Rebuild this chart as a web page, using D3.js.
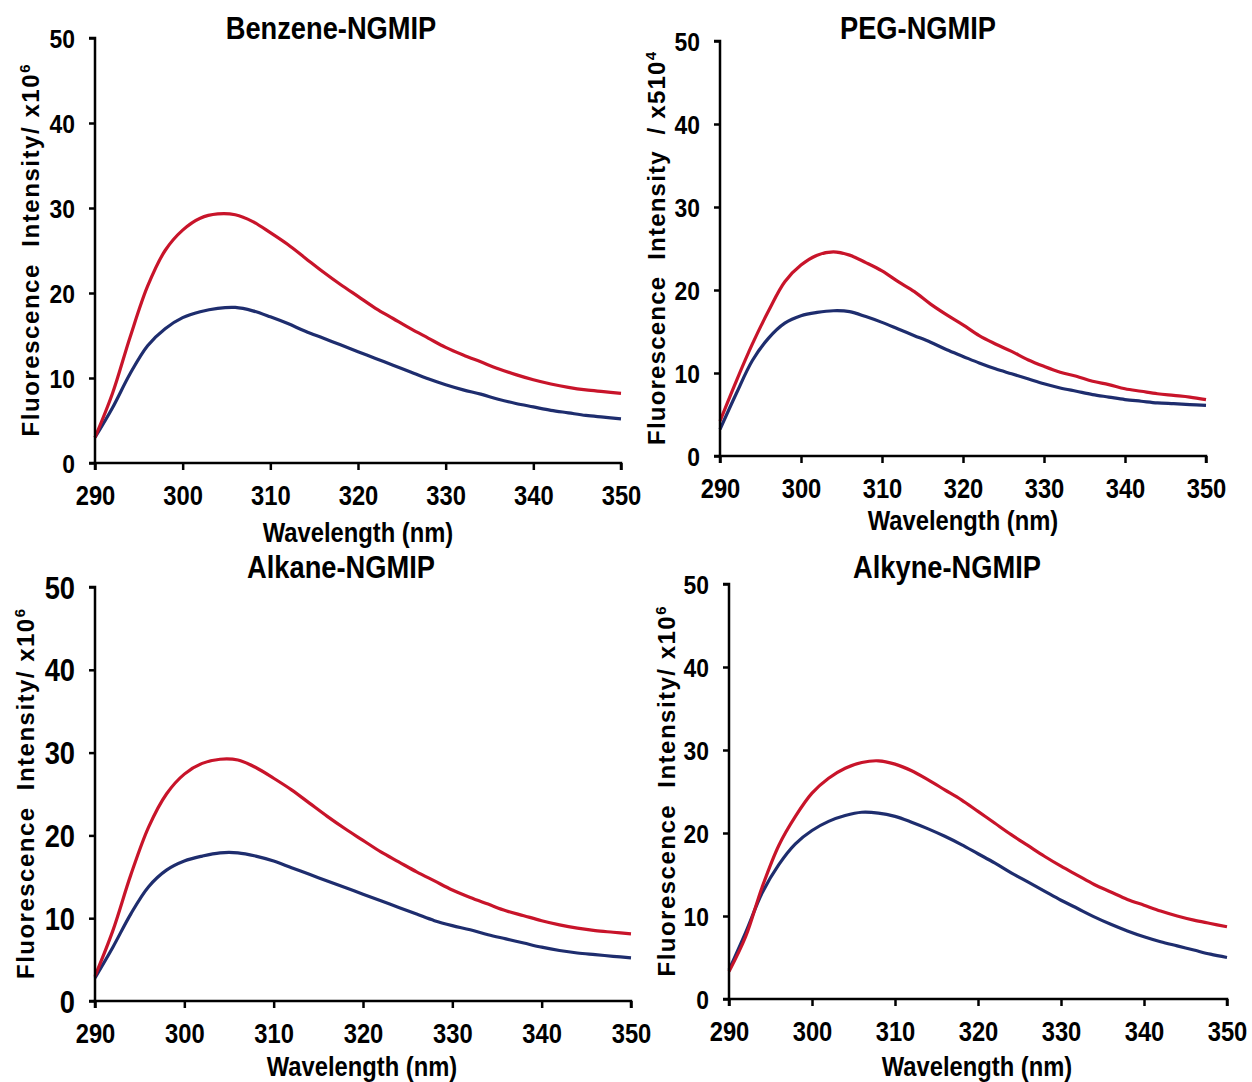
<!DOCTYPE html>
<html>
<head>
<meta charset="utf-8">
<script src="https://cdn.jsdelivr.net/npm/d3@7"></script>
<style>
  html, body { margin: 0; padding: 0; background: #fff; }
  svg { display: block; }
  .bold { font-family: "Liberation Sans", Arial, sans-serif; font-weight: bold; fill: #000; }
</style>
</head>
<body>
<svg id="chart" width="1252" height="1082"></svg>
<script>
// Emission wavelengths (nm)
const wavelengths = [290, 292, 294, 296, 298, 300, 302, 304, 306, 308, 310, 312, 314, 316, 318, 320,
                     322, 324, 326, 328, 330, 332, 334, 336, 338, 340, 342, 344, 346, 348, 350];

const xTicks = [290, 300, 310, 320, 330, 340, 350];
const yTicks = [0, 10, 20, 30, 40, 50];

// Fluorescence intensity spectra, upper (red) and lower (blue) traces per polymer
const benzeneRed  = [3, 8.2, 14.8, 20.8, 25.0, 27.4, 28.8, 29.3, 29.2, 28.4, 27.1, 25.7, 24.1, 22.5, 21, 19.6,
                     18.2, 17, 15.8, 14.7, 13.6, 12.7, 11.9, 11.1, 10.4, 9.8, 9.3, 8.9, 8.6, 8.4, 8.2];
const benzeneBlue = [3, 6.5, 10.5, 13.8, 15.8, 17.1, 17.8, 18.2, 18.3, 17.9, 17.2, 16.4, 15.5, 14.7, 13.9, 13.1,
                     12.3, 11.5, 10.7, 9.9, 9.2, 8.6, 8.1, 7.5, 7.0, 6.6, 6.2, 5.9, 5.6, 5.4, 5.2];

const pegRed  = [4.2, 9, 13.5, 17.5, 21, 23, 24.2, 24.6, 24.2, 23.3, 22.3, 21, 19.8, 18.3, 17, 15.8,
                 14.5, 13.5, 12.6, 11.6, 10.8, 10.1, 9.6, 9, 8.6, 8.1, 7.8, 7.5, 7.3, 7.1, 6.8];
const pegBlue = [3.2, 7.5, 11.5, 14.2, 16, 16.9, 17.3, 17.5, 17.4, 16.8, 16.1, 15.3, 14.5, 13.7, 12.8, 12,
                 11.2, 10.5, 9.9, 9.3, 8.7, 8.2, 7.8, 7.4, 7.1, 6.8, 6.6, 6.4, 6.3, 6.2, 6.1];

const alkaneRed  = [3, 8.5, 15.2, 21, 25, 27.4, 28.7, 29.2, 29.1, 28.2, 26.9, 25.5, 23.9, 22.3, 20.8, 19.4,
                    18, 16.8, 15.6, 14.5, 13.4, 12.5, 11.7, 10.9, 10.3, 9.7, 9.2, 8.8, 8.5, 8.3, 8.1];
const alkaneBlue = [2.8, 6.5, 10.5, 13.8, 15.8, 16.9, 17.5, 17.9, 17.9, 17.5, 16.9, 16.1, 15.3, 14.5, 13.7, 12.9,
                    12.1, 11.3, 10.5, 9.7, 9.1, 8.6, 8, 7.5, 7, 6.5, 6.1, 5.8, 5.6, 5.4, 5.2];

const alkyneRed  = [3.3, 7.5, 13.5, 18.5, 22, 24.8, 26.6, 27.8, 28.5, 28.7, 28.3, 27.5, 26.4, 25.2, 24, 22.6,
                    21.2, 19.8, 18.5, 17.2, 16, 14.9, 13.8, 12.9, 12, 11.3, 10.6, 10, 9.5, 9.1, 8.7];
const alkyneBlue = [3.5, 8, 12.8, 16.2, 18.7, 20.3, 21.4, 22.1, 22.5, 22.4, 22, 21.3, 20.5, 19.6, 18.6, 17.5,
                    16.4, 15.2, 14.1, 13, 11.9, 10.9, 9.9, 9, 8.2, 7.5, 6.9, 6.4, 5.9, 5.4, 5];

const titles = ["Benzene-NGMIP", "PEG-NGMIP", "Alkane-NGMIP", "Alkyne-NGMIP"];
const yLabels = [
  ["Fluorescence  Intensity/ x10", "6"],
  ["Fluorescence  Intensity  / x510", "4"],
  ["Fluorescence  Intensity/ x10", "6"],
  ["Fluorescence  Intensity/ x10", "6"]
];
const xLabel = "Wavelength (nm)";

const RED = "#c8142a";
const BLUE = "#1e2d6e";
const SQUEEZE = 0.88;   // horizontal compression for the condensed bold lettering

// Plot frames: left/right/top/bottom of each axis box, plus text placement
const panels = [
  { title: titles[0], ylab: yLabels[0], red: benzeneRed, blue: benzeneBlue,
    l: 95, r: 621, t: 38, b: 463, titleX: 331, titleY: 39, ylabX: 39, ylabLen: 372,
    xlabX: 358, xlabY: 542, xtY: 505, ytSize: 26 },
  { title: titles[1], ylab: yLabels[1], red: pegRed, blue: pegBlue,
    l: 720, r: 1206, t: 41, b: 456, titleX: 918, titleY: 39, ylabX: 665, ylabLen: 393,
    xlabX: 963, xlabY: 530, xtY: 498, ytSize: 26 },
  { title: titles[2], ylab: yLabels[2], red: alkaneRed, blue: alkaneBlue,
    l: 95, r: 631, t: 587, b: 1001, titleX: 341, titleY: 578, ylabX: 34, ylabLen: 370,
    xlabX: 362, xlabY: 1076, xtY: 1043, ytSize: 31 },
  { title: titles[3], ylab: yLabels[3], red: alkyneRed, blue: alkyneBlue,
    l: 729, r: 1227, t: 584, b: 999, titleX: 947, titleY: 578, ylabX: 675, ylabLen: 370,
    xlabX: 977, xlabY: 1076, xtY: 1041, ytSize: 26 }
];

const svg = d3.select("#chart");

function squeezedText(parent, x, y, size, str) {
  return parent.append("text")
    .attr("class", "bold")
    .attr("transform", `translate(${x},${y}) scale(${SQUEEZE},1)`)
    .attr("text-anchor", "middle")
    .attr("font-size", size)
    .text(str);
}

panels.forEach(p => {
  const x = d3.scaleLinear().domain([290, 350]).range([p.l, p.r]);
  const y = d3.scaleLinear().domain([0, 50]).range([p.b, p.t]);
  const g = svg.append("g");

  // Spectra
  const line = d3.line()
    .x((d, i) => x(wavelengths[i]))
    .y(d => y(d))
    .curve(d3.curveCatmullRom.alpha(0.5));

  [[p.blue, BLUE], [p.red, RED]].forEach(([vals, col]) => {
    g.append("path")
      .datum(vals)
      .attr("d", line)
      .attr("fill", "none")
      .attr("stroke", col)
      .attr("stroke-width", 3.2)
      .attr("stroke-linejoin", "round");
  });

  // Axes
  const xAxis = d3.axisBottom(x).tickValues(xTicks).tickSize(7).tickFormat(d3.format("d"));
  const yAxis = d3.axisLeft(y).tickValues(yTicks).tickSize(6).tickFormat(d3.format("d"));

  const gx = g.append("g").attr("transform", `translate(0,${p.b})`).call(xAxis);
  const gy = g.append("g").attr("transform", `translate(${p.l},0)`).call(yAxis);

  [gx, gy].forEach(ax => {
    ax.select(".domain").attr("stroke", "#000").attr("stroke-width", 2.5);
    ax.selectAll(".tick line").attr("stroke", "#000").attr("stroke-width", 2.5);
    ax.selectAll(".tick text").attr("class", "bold");
  });
  gx.select(".domain").attr("d", `M${p.l},7V0H${p.r}V7`);
  gy.select(".domain").attr("d", `M-6,${p.t}H0V${p.b}H-6`);

  gx.selectAll(".tick text")
    .attr("font-size", 27)
    .attr("dy", null)
    .attr("y", p.xtY - p.b)
    .attr("transform", `scale(${SQUEEZE},1)`);
  gy.selectAll(".tick text")
    .attr("font-size", p.ytSize)
    .attr("dy", "0.36em")
    .attr("x", -20 / SQUEEZE)
    .attr("transform", `scale(${SQUEEZE},1)`);

  // Title and x-axis label
  squeezedText(g, p.titleX, p.titleY, 31, p.title);
  squeezedText(g, p.xlabX, p.xlabY, 27, xLabel);

  // Y axis label
  const cy = (p.t + p.b) / 2;
  const yl = g.append("text")
    .attr("class", "bold")
    .attr("transform", `translate(${p.ylabX},${cy}) rotate(-90)`)
    .attr("text-anchor", "middle")
    .attr("font-size", 24)
    .attr("textLength", p.ylabLen)
    .attr("lengthAdjust", "spacing")
    .style("white-space", "pre");
  yl.append("tspan").text(p.ylab[0]);
  yl.append("tspan").attr("font-size", 15).attr("dy", -9).text(p.ylab[1]);
});
</script>
</body>
</html>
